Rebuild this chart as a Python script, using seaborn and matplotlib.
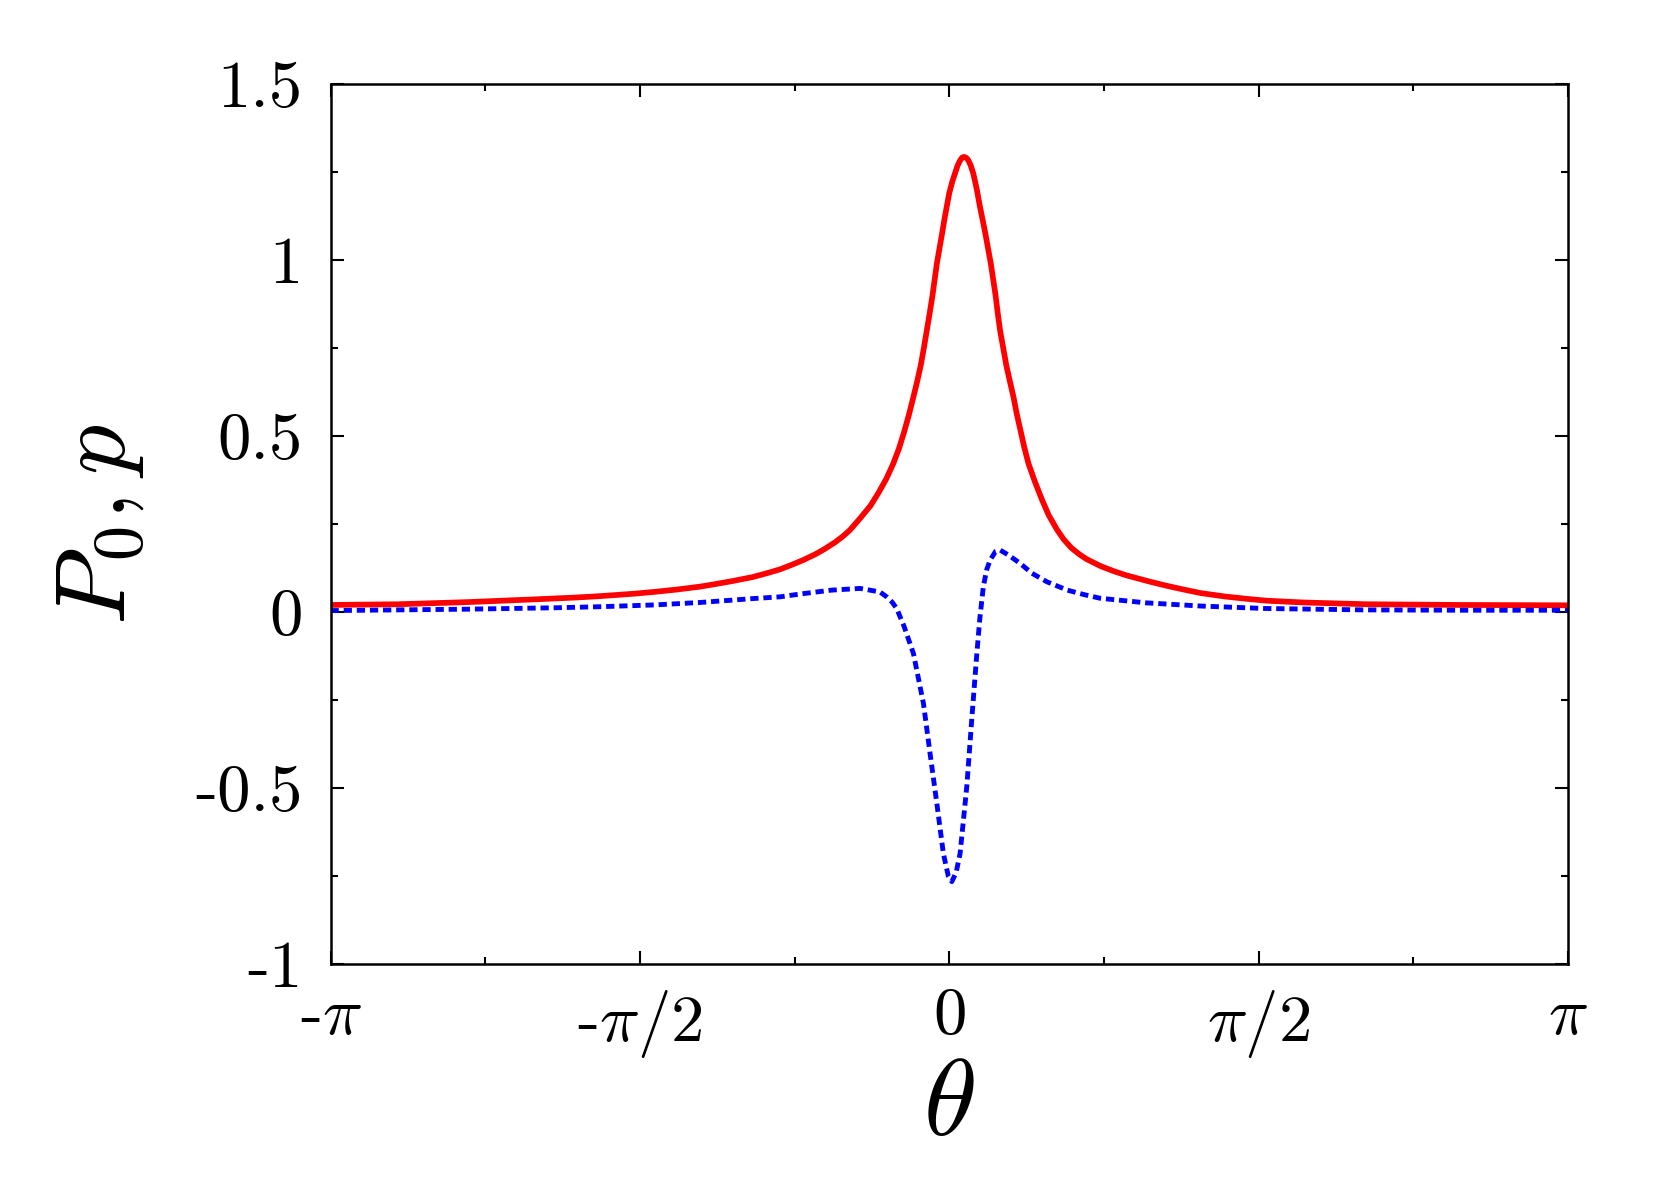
import numpy as np
import pandas as pd
import matplotlib
matplotlib.use("Agg")
import matplotlib.pyplot as plt
import seaborn as sns
from matplotlib.ticker import FixedLocator, FixedFormatter

# ---- data ----
theta_P0 = [-3.1416, -2.8, -2.45, -2.1, -1.9, -1.774, -1.6, -1.5, -1.38, -1.266,
            -1.18, -1.1, -1.0, -0.927, -0.86, -0.8, -0.74, -0.68, -0.63, -0.58,
            -0.54, -0.504, -0.45, -0.40, -0.36, -0.32, -0.284, -0.255, -0.23, -0.205,
            -0.182, -0.163, -0.145, -0.129, -0.114, -0.099, -0.085, -0.074, -0.063, -0.049,
            -0.035, -0.024, -0.013, 0.0, 0.015, 0.029, 0.042, 0.055, 0.065, 0.075,
            0.085, 0.095, 0.108, 0.122, 0.139, 0.156, 0.171, 0.185, 0.198, 0.211,
            0.223, 0.235, 0.246, 0.258, 0.274, 0.29, 0.308, 0.326, 0.342, 0.36,
            0.38, 0.402, 0.435, 0.47, 0.505, 0.546, 0.58, 0.62, 0.66, 0.698,
            0.77, 0.84, 0.9, 0.96, 1.02, 1.1, 1.18, 1.274, 1.4, 1.5,
            1.613, 1.8, 2.12, 2.6, 3.1416]
P0 = [0.020, 0.022, 0.028, 0.036, 0.041, 0.045, 0.052, 0.057, 0.064, 0.072,
      0.080, 0.088, 0.099, 0.110, 0.121, 0.134, 0.148, 0.164, 0.180, 0.198,
      0.215, 0.233, 0.268, 0.302, 0.338, 0.378, 0.422, 0.465, 0.510, 0.560,
      0.611, 0.655, 0.700, 0.750, 0.800, 0.850, 0.900, 0.945, 0.990, 1.035,
      1.080, 1.117, 1.151, 1.190, 1.222, 1.246, 1.268, 1.283, 1.291, 1.293,
      1.291, 1.285, 1.270, 1.246, 1.203, 1.151, 1.110, 1.070, 1.030, 0.990,
      0.945, 0.900, 0.850, 0.800, 0.750, 0.700, 0.655, 0.611, 0.565, 0.520,
      0.470, 0.422, 0.370, 0.320, 0.275, 0.235, 0.207, 0.182, 0.164, 0.150,
      0.130, 0.115, 0.104, 0.095, 0.086, 0.075, 0.065, 0.054, 0.044, 0.038,
      0.032, 0.027, 0.022, 0.020, 0.019]

theta_p = [-3.1416, -2.45, -2.0, -1.774, -1.5, -1.266, -1.0, -0.86, -0.758, -0.6,
           -0.453, -0.352, -0.318, -0.29, -0.267, -0.23, -0.182, -0.131, -0.098, -0.063,
           -0.030, -0.005, 0.013, 0.035, 0.055, 0.089, 0.114, 0.140, 0.155, 0.173,
           0.19, 0.207, 0.235, 0.258, 0.30, 0.36, 0.42, 0.495, 0.6, 0.68,
           0.766, 1.0, 1.274, 1.6, 2.1, 2.6, 3.1416]
p = [0.004, 0.008, 0.012, 0.015, 0.020, 0.027, 0.038, 0.043, 0.051, 0.062,
     0.067, 0.057, 0.043, 0.028, 0.010, -0.040, -0.118, -0.260, -0.400, -0.544,
     -0.686, -0.750, -0.766, -0.740, -0.686, -0.496, -0.307, -0.118, -0.020, 0.072,
     0.120, 0.147, 0.172, 0.176, 0.162, 0.138, 0.110, 0.086, 0.062, 0.050,
     0.039, 0.026, 0.017, 0.010, 0.006, 0.005, 0.005]

x_ticks = [-np.pi, -np.pi / 2, 0, np.pi / 2, np.pi]
x_ticklabels = [r"-$\pi$", r"-$\pi/2$", r"$0$", r"$\pi/2$", r"$\pi$"]
y_ticks = [-1, -0.5, 0, 0.5, 1, 1.5]
y_ticklabels = ["-1", "-0.5", "0", "0.5", "1", "1.5"]

# ---- style ----
sns.set_theme(style="ticks")
plt.rcParams["font.family"] = ["cmr10", "DejaVu Sans"]
plt.rcParams["mathtext.fontset"] = "cm"
plt.rcParams["axes.unicode_minus"] = False
plt.rcParams["text.color"] = "black"
plt.rcParams["axes.labelcolor"] = "black"
plt.rcParams["xtick.color"] = "black"
plt.rcParams["ytick.color"] = "black"

fig = plt.figure(figsize=(16.61, 11.77), dpi=100)
ax = fig.add_axes([0.199, 0.181, 0.745, 0.7476])

df1 = pd.DataFrame({"theta": theta_P0, "val": P0})
df2 = pd.DataFrame({"theta": theta_p, "val": p})
sns.lineplot(data=df1, x="theta", y="val", ax=ax, color="#ff0000", lw=4.1,
             sort=False, estimator=None)
sns.lineplot(data=df2, x="theta", y="val", ax=ax, color="#0000ff", lw=3.5,
             sort=False, estimator=None, linestyle=(0, (1.7, 1.0)),
             dash_capstyle="butt")

ax.set_xlim(-np.pi, np.pi)
ax.set_ylim(-1, 1.5)

ax.xaxis.set_major_locator(FixedLocator(x_ticks))
ax.xaxis.set_major_formatter(FixedFormatter(x_ticklabels))
ax.xaxis.set_minor_locator(FixedLocator([-3 * np.pi / 4, -np.pi / 4, np.pi / 4, 3 * np.pi / 4]))
ax.yaxis.set_major_locator(FixedLocator(y_ticks))
ax.yaxis.set_major_formatter(FixedFormatter(y_ticklabels))
ax.yaxis.set_minor_locator(FixedLocator([-0.75, -0.25, 0.25, 0.75, 1.25]))

ax.tick_params(which="both", direction="in", top=True, right=True, width=1.5,
               color="black", labelcolor="black", labelsize=48)
ax.tick_params(which="major", length=9.4)
ax.tick_params(which="minor", length=4.7)
ax.tick_params(axis="y", which="major", pad=20)
ax.tick_params(axis="x", which="major", pad=17)

for s in ax.spines.values():
    s.set_linewidth(1.8)
    s.set_color("black")

ax.set_xlabel(r"$\theta$", fontsize=78, color="black")
ax.set_ylabel(r"$P_0, p$", fontsize=72, color="black")
ax.xaxis.set_label_coords(0.5, -0.108)
ax.yaxis.set_label_coords(-0.149, 0.5)

fig.savefig("out.png", dpi=100, facecolor="white")
